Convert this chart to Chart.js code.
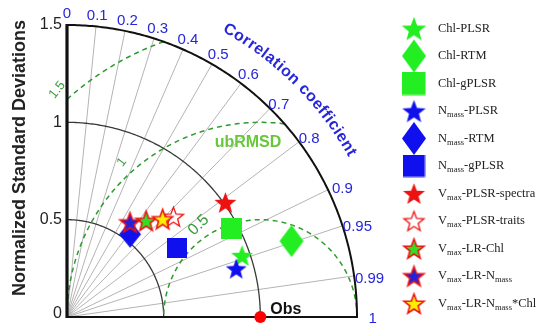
<!DOCTYPE html>
<html>
<head>
<meta charset="utf-8">
<script src="https://cdn.jsdelivr.net/npm/chart.js@4.4.1/dist/chart.umd.min.js"></script>
<style>
  html, body { margin: 0; padding: 0; background: #fff; }
  canvas { display: block; }
</style>
</head>
<body>
<canvas id="taylor" width="538" height="328"></canvas>
<script>
// Model names (text after "_{...}" is drawn as a subscript)
const seriesNames = [
  'Chl-PLSR', 'Chl-RTM', 'Chl-gPLSR',
  'N_{mass}-PLSR', 'N_{mass}-RTM', 'N_{mass}-gPLSR',
  'V_{max}-PLSR-spectra', 'V_{max}-PLSR-traits', 'V_{max}-LR-Chl',
  'V_{max}-LR-N_{mass}', 'V_{max}-LR-N_{mass}*Chl'
];
// Normalized standard deviation of each model
const stdDev = [0.959, 1.225, 0.966, 0.910, 0.536, 0.671, 1.009, 0.754, 0.642, 0.586, 0.706];
// Correlation coefficient of each model with the observations
const corrCoef = [0.944, 0.948, 0.883, 0.962, 0.609, 0.847, 0.812, 0.730, 0.637, 0.556, 0.701];
// Reference point
const obsStd = 1.0;
const obsCorr = 1.0;

// Axis ticks
const stdTicks = [0, 0.5, 1, 1.5];
const stdArcs = [0.5, 1];
const corrTicks = [0, 0.1, 0.2, 0.3, 0.4, 0.5, 0.6, 0.7, 0.8, 0.9, 0.95, 0.99, 1];
const corrLines = [0.1, 0.2, 0.3, 0.4, 0.5, 0.6, 0.7, 0.8, 0.9, 0.95, 0.99];
const rmsdTicks = [0.5, 1, 1.5];
const stdMax = 1.5;

// ---- marker sprites ----
function makeStar(size, fill, stroke, lw) {
  const pad = Math.ceil(lw || 0) + 1;
  const c = document.createElement('canvas');
  c.width = c.height = Math.ceil(size) + pad * 2;
  const g = c.getContext('2d');
  const cx = c.width / 2, cy = c.height / 2 + size * 0.05, R = size / 2, r = R * 0.42;
  g.beginPath();
  for (let i = 0; i < 10; i++) {
    const a = -Math.PI / 2 + i * Math.PI / 5;
    const rad = i % 2 ? r : R;
    g.lineTo(cx + rad * Math.cos(a), cy + rad * Math.sin(a));
  }
  g.closePath();
  g.fillStyle = fill;
  g.fill();
  if (stroke) { g.lineWidth = lw; g.strokeStyle = stroke; g.lineJoin = 'miter'; g.stroke(); }
  return c;
}
function makeDiamond(w, h, fill) {
  const c = document.createElement('canvas');
  c.width = Math.ceil(w) + 2; c.height = Math.ceil(h) + 2;
  const g = c.getContext('2d');
  const cx = c.width / 2, cy = c.height / 2;
  g.beginPath();
  g.moveTo(cx, cy - h / 2); g.lineTo(cx + w / 2, cy); g.lineTo(cx, cy + h / 2); g.lineTo(cx - w / 2, cy);
  g.closePath(); g.fillStyle = fill; g.fill();
  return c;
}
function makeRect(w, h, fill) {
  const c = document.createElement('canvas');
  c.width = Math.ceil(w); c.height = Math.ceil(h);
  const g = c.getContext('2d');
  g.fillStyle = fill; g.fillRect(0, 0, w, h);
  return c;
}

const GREEN = '#22ee22', BLUE = '#1010ee', RED = '#ee1111';
function markerFor(i, legend) {
  const k = legend ? 1.12 : 1;
  switch (i) {
    case 0: return makeStar(23 * k, GREEN);
    case 1: return legend ? makeDiamond(24, 33, GREEN) : makeDiamond(24, 32, GREEN);
    case 2: return makeRect(21 * k, 21 * k, GREEN);
    case 3: return makeStar(22 * k, BLUE);
    case 4: return legend ? makeDiamond(24, 33, BLUE) : makeDiamond(22, 27, BLUE);
    case 5: return makeRect(20 * k, 20 * k, BLUE);
    case 6: return makeStar(23, RED);
    case 7: return makeStar(21, '#ffffff', RED, 1.3);
    case 8: return makeStar(21, '#33dd22', RED, 1.6);
    case 9: return makeStar(21, '#2222dd', RED, 1.6);
    case 10: return makeStar(21, '#ffee00', RED, 1.6);
  }
}

const toXY = (s, c) => ({ x: s * c, y: s * Math.sqrt(Math.max(0, 1 - c * c)) });

const datasets = seriesNames.map((name, i) => ({
  label: name,
  data: [toXY(stdDev[i], corrCoef[i])],
  pointStyle: markerFor(i, false),
  pointRadius: 10,
  order: -i,
  clip: false
}));
datasets.push({
  label: 'Obs',
  data: [toXY(obsStd, obsCorr)],
  pointStyle: 'circle',
  pointRadius: 6,
  backgroundColor: '#ff0000',
  borderColor: '#ff0000',
  borderWidth: 0,
  order: -100,
  clip: false
});

const deg = Math.PI / 180;

// Polar grid, arcs and labels of the Taylor diagram
const taylorGrid = {
  id: 'taylorGrid',
  beforeDatasetsDraw(chart) {
    const { ctx, scales: { x: xs, y: ys } } = chart;
    const P = (x, y) => [xs.getPixelForValue(x), ys.getPixelForValue(y)];
    const O = P(0, 0);
    ctx.save();

    // correlation rays
    ctx.strokeStyle = '#b4b4b4';
    ctx.lineWidth = 1;
    corrLines.forEach(c => {
      const e = P(stdMax * c, stdMax * Math.sqrt(1 - c * c));
      ctx.beginPath(); ctx.moveTo(O[0], O[1]); ctx.lineTo(e[0], e[1]); ctx.stroke();
    });

    // standard deviation arcs
    const arc = (r) => {
      ctx.beginPath();
      for (let k = 0; k <= 180; k++) {
        const t = k / 180 * Math.PI / 2;
        const p = P(r * Math.cos(t), r * Math.sin(t));
        k ? ctx.lineTo(p[0], p[1]) : ctx.moveTo(p[0], p[1]);
      }
      ctx.stroke();
    };
    ctx.strokeStyle = '#3a3a3a';
    ctx.lineWidth = 1.3;
    stdArcs.forEach(arc);

    // centred RMS difference arcs around the reference point
    ctx.strokeStyle = '#2f9a2f';
    ctx.lineWidth = 1.5;
    ctx.setLineDash([5, 4]);
    rmsdTicks.forEach(r => {
      const lo = Math.acos(Math.min(1, (stdMax * stdMax - 1 - r * r) / (2 * r)));
      const hi = Math.acos(Math.max(-1, -1 / r));
      ctx.beginPath();
      for (let k = 0; k <= 200; k++) {
        const f = lo + (hi - lo) * k / 200;
        const p = P(obsStd + r * Math.cos(f), r * Math.sin(f));
        k ? ctx.lineTo(p[0], p[1]) : ctx.moveTo(p[0], p[1]);
      }
      ctx.stroke();
    });
    ctx.setLineDash([]);

    // outer arc and axes
    ctx.strokeStyle = '#111';
    ctx.lineWidth = 2;
    arc(stdMax);
    const top = P(0, stdMax), right = P(stdMax, 0);
    ctx.lineWidth = 3.2;
    ctx.beginPath(); ctx.moveTo(O[0], O[1] + 1); ctx.lineTo(top[0], top[1] - 1); ctx.stroke();
    ctx.lineWidth = 2;
    ctx.beginPath(); ctx.moveTo(O[0], O[1]); ctx.lineTo(right[0] + 1, right[1]); ctx.stroke();

    // standard deviation tick labels
    ctx.fillStyle = '#222';
    ctx.font = '16px "Liberation Sans", Arial, sans-serif';
    ctx.textAlign = 'right';
    ctx.textBaseline = 'middle';
    stdTicks.forEach(v => {
      const p = P(0, v);
      ctx.fillText(String(v), p[0] - 5, p[1] - (v === 0 ? 3 : 0));
    });

    // correlation tick labels
    ctx.fillStyle = '#2626dd';
    ctx.font = '15px "Liberation Sans", Arial, sans-serif';
    ctx.textAlign = 'center';
    corrTicks.forEach(c => {
      const r = 1.565;
      const p = P(r * c, r * Math.sqrt(1 - c * c));
      const dy = c === 1 ? 2 : (c >= 0.7 ? 5 : 2);
      ctx.fillText(String(c), p[0] + (c >= 0.9 ? 3 : 0), p[1] + dy);
    });

    // curved axis title
    ctx.font = 'bold 16px "Liberation Sans", Arial, sans-serif';
    const title = 'Correlation coefficient';
    const R = 1.695, sAvg = (xs.getPixelForValue(1) - xs.getPixelForValue(0) + ys.getPixelForValue(0) - ys.getPixelForValue(1)) / 2;
    let th = 61.3 * deg;
    for (const ch of title) {
      const w = ctx.measureText(ch).width;
      const tm = th - (w / 2) / (R * sAvg);
      const p = P(R * Math.cos(tm), R * Math.sin(tm));
      ctx.save();
      ctx.translate(p[0], p[1]);
      ctx.rotate(Math.PI / 2 - tm);
      ctx.fillText(ch, 0, 0);
      ctx.restore();
      th -= (w + 0.6) / (R * sAvg);
    }

    // RMS difference labels
    ctx.fillStyle = '#3a9a3a';
    const lblAng = { 0.5: 124, 1: 132, 1.5: 132 };
    rmsdTicks.forEach(r => {
      const f = lblAng[r] * deg;
      const p = P(obsStd + (r + 0.07) * Math.cos(f), (r + 0.07) * Math.sin(f));
      ctx.save();
      ctx.translate(p[0], p[1]);
      ctx.rotate(-(lblAng[r] - 90 + 10) * deg);
      ctx.font = (r === 0.5 ? '16px' : '13px') + ' "Liberation Sans", Arial, sans-serif';
      ctx.fillText(String(r), 0, 0);
      ctx.restore();
    });
    ctx.fillStyle = '#66c838';
    ctx.font = 'bold 16px "Liberation Sans", Arial, sans-serif';
    ctx.fillText('ubRMSD', 248, 143);

    // reference label
    const ob = P(obsStd, 0);
    ctx.fillStyle = '#111';
    ctx.font = 'bold 16px "Liberation Sans", Arial, sans-serif';
    ctx.textAlign = 'left';
    ctx.fillText('Obs', ob[0] + 10, ob[1] - 7);

    // vertical axis title
    ctx.save();
    ctx.translate(20, 158);
    ctx.rotate(-Math.PI / 2);
    ctx.textAlign = 'center';
    ctx.fillStyle = '#222';
    ctx.font = 'bold 18px "Liberation Sans", Arial, sans-serif';
    ctx.fillText('Normalized Standard Deviations', 0, 0);
    ctx.restore();

    ctx.restore();
  }
};

// Legend with subscripted names
function drawRich(ctx, text, x, y) {
  const parts = text.split(/(_\{[^}]*\})/).filter(s => s.length);
  for (const part of parts) {
    if (part.startsWith('_{')) {
      const s = part.slice(2, -1);
      ctx.font = '8.5px "Liberation Serif", "Times New Roman", serif';
      ctx.fillText(s, x, y + 4);
      x += ctx.measureText(s).width;
    } else {
      ctx.font = '12.5px "Liberation Serif", "Times New Roman", serif';
      ctx.fillText(part, x, y);
      x += ctx.measureText(part).width;
    }
  }
}
const sideLegend = {
  id: 'sideLegend',
  afterDraw(chart) {
    const ctx = chart.ctx;
    ctx.save();
    ctx.textAlign = 'left';
    ctx.textBaseline = 'middle';
    ctx.fillStyle = '#222';
    seriesNames.forEach((name, i) => {
      const y = 28.5 + i * 27.5;
      const m = markerFor(i, true);
      ctx.drawImage(m, 414 - m.width / 2, y - m.height / 2);
      drawRich(ctx, name, 438, y);
    });
    ctx.restore();
  }
};

new Chart(document.getElementById('taylor'), {
  type: 'scatter',
  data: { datasets },
  options: {
    responsive: false,
    animation: false,
    devicePixelRatio: 1,
    events: [],
    layout: { padding: { left: 67, right: 181, top: 25, bottom: 7 } },
    scales: {
      x: { type: 'linear', min: 0, max: stdMax, display: false },
      y: { type: 'linear', min: 0, max: stdMax, display: false }
    },
    plugins: { legend: { display: false }, tooltip: { enabled: false } }
  },
  plugins: [taylorGrid, sideLegend]
});
</script>
</body>
</html>
